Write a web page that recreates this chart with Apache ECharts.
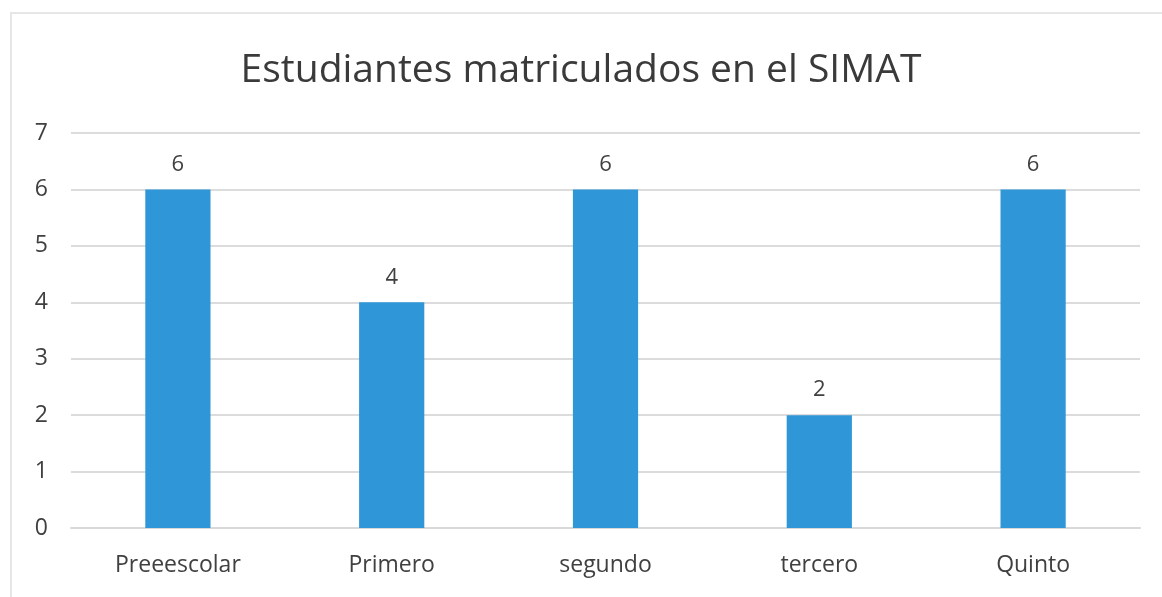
<!DOCTYPE html>
<html>
<head>
<meta charset="utf-8">
<script src="https://cdn.jsdelivr.net/npm/echarts@6/dist/echarts.min.js"></script>
<style>
  html, body { margin: 0; padding: 0; background: #fff; }
  #main { width: 1162px; height: 597px; }
</style>
</head>
<body>
<div id="main"></div>
<script>
// datos del gráfico
const categories = ['Preeescolar', 'Primero', 'segundo', 'tercero', 'Quinto'];
const students = [6, 4, 6, 2, 6];
const yTicks = [0, 1, 2, 3, 4, 5, 6, 7];

const chart = echarts.init(document.getElementById('main'));
const font = '"Open Sans", "Liberation Sans", sans-serif';

chart.setOption({
  backgroundColor: '#fff',
  animation: false,
  graphic: [{
    type: 'rect',
    shape: { x: 11, y: 13, width: 1170, height: 600 },
    style: { fill: 'none', stroke: '#e6e6e6', lineWidth: 2 }
  }],
  title: {
    text: 'Estudiantes matriculados en el SIMAT',
    left: 'center',
    top: 46,
    textStyle: { fontFamily: font, fontSize: 39, fontWeight: 'normal', color: '#3a3a3a' }
  },
  grid: { left: 71, right: 22, top: 133, bottom: 69 },
  xAxis: {
    type: 'category',
    data: categories,
    axisTick: { show: false },
    axisLine: { lineStyle: { color: '#d9d9d9', width: 2 } },
    axisLabel: { fontFamily: font, fontSize: 23, color: '#404040', margin: 26 }
  },
  yAxis: {
    type: 'value',
    min: yTicks[0],
    max: yTicks[yTicks.length - 1],
    interval: 1,
    axisLine: { show: false },
    axisTick: { show: false },
    splitLine: { lineStyle: { color: '#dcdcdc', width: 2 } },
    axisLabel: { fontFamily: font, fontSize: 23, color: '#404040', margin: 23 }
  },
  series: [{
    type: 'bar',
    data: students,
    barWidth: '30.5%',
    itemStyle: { color: '#2f96d8' },
    label: {
      show: true,
      position: 'top',
      distance: 14,
      fontFamily: font,
      fontSize: 22,
      color: '#404040'
    }
  }]
});
</script>
</body>
</html>
